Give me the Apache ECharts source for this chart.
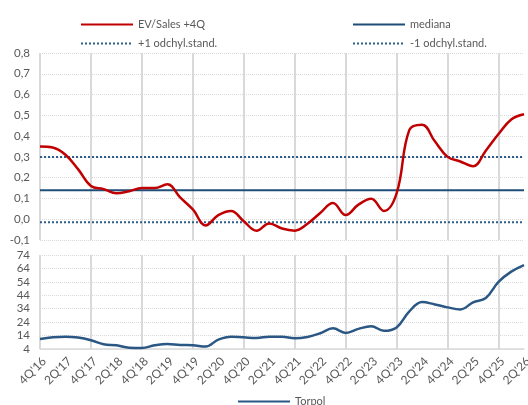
<!DOCTYPE html>
<html><head><meta charset="utf-8">
<script src="https://cdn.jsdelivr.net/npm/echarts@6/dist/echarts.min.js"></script>
<style>html,body{margin:0;padding:0;background:#fff}#c{width:528px;height:405px}</style>
</head><body><div id="c"></div>
<script>
const categories = ["4Q'16","1Q'17","2Q'17","3Q'17","4Q'17","1Q'18","2Q'18","3Q'18","4Q'18","1Q'19","2Q'19","3Q'19","4Q'19","1Q'20","2Q'20","3Q'20","4Q'20","1Q'21","2Q'21","3Q'21","4Q'21","1Q'22","2Q'22","3Q'22","4Q'22","1Q'23","2Q'23","3Q'23","4Q'23","1Q'24","2Q'24","3Q'24","4Q'24","1Q'25","2Q'25","3Q'25","4Q'25","1Q'26","2Q'26"];
const evSales = [0.35,0.345,0.31,0.24,0.16,0.145,0.125,0.135,0.15,0.15,0.168,0.105,0.047,-0.03,0.02,0.04,-0.01,-0.055,-0.02,-0.045,-0.055,-0.022,0.03,0.078,0.02,0.07,0.098,0.04,0.125,0.43,0.455,0.375,0.30,0.278,0.255,0.33,0.41,0.48,0.505];
const medianaVal = 0.14, plusStdVal = 0.30, minusStdVal = -0.015;
const mediana = categories.map(() => medianaVal);
const plusStd = categories.map(() => plusStdVal);
const minusStd = categories.map(() => minusStdVal);
const torpol = [11.5,12.7,13.2,12.5,10.5,7.5,6.8,5,4.8,6.8,7.8,7,6.8,5.8,11,13.2,12.7,12.2,13.2,13.2,12,13,15.7,19.4,16,19,21,17.6,20.1,32,39,37.2,35,33.5,38.7,42,54,61.6,66.5];

const FONT = 'Lato';
const grey = '#595959';
const gridCol = '#d9d9d9';
const vInt = (i) => i % 4 === 0;
const chart = echarts.init(document.getElementById('c'), null, {renderer:'canvas'});
const legendBase = {itemWidth:52, itemHeight:10, itemStyle:{opacity:0}, textStyle:{color:grey, fontFamily:FONT, fontSize:11}, itemGap:10};
chart.setOption({
  animation:false,
  textStyle:{fontFamily:FONT},
  grid:[
    {left:40, right:4, top:53, height:187, outerBoundsMode:'none', containLabel:false},
    {left:40, right:4, top:255, height:94, outerBoundsMode:'none', containLabel:false}
  ],
  legend:[
    Object.assign({data:['EV/Sales +4Q'], left:75, top:14}, legendBase),
    Object.assign({data:['mediana'], left:347, top:14}, legendBase),
    Object.assign({data:['+1 odchyl.stand.'], left:75, top:33}, legendBase),
    Object.assign({data:['-1 odchyl.stand.'], left:347, top:33}, legendBase),
    Object.assign({data:['Torpol'], left:232, top:391}, legendBase)
  ],
  xAxis:[
    {type:'category', gridIndex:0, data:categories, boundaryGap:false,
     axisLine:{show:false}, axisTick:{show:false}, axisLabel:{show:false},
     splitLine:{show:true, interval:vInt, lineStyle:{color:gridCol, width:2}}},
    {type:'category', gridIndex:1, data:categories, boundaryGap:false,
     axisLine:{show:true, lineStyle:{color:gridCol, width:1.5}}, axisTick:{show:false},
     axisLabel:{interval:1, rotate:45, color:grey, fontFamily:FONT, fontSize:12, margin:6, verticalAlign:'top', align:'right'},
     splitLine:{show:true, interval:vInt, lineStyle:{color:gridCol, width:2}}}
  ],
  yAxis:[
    {type:'value', gridIndex:0, min:-0.1, max:0.8, interval:0.1,
     axisLine:{show:false}, axisTick:{show:false},
     axisLabel:{color:grey, fontFamily:FONT, fontSize:11.5, margin:10, formatter:(v)=>v.toFixed(1).replace('.',',')},
     splitLine:{lineStyle:{color:gridCol, type:'dotted', width:1}}},
    {type:'value', gridIndex:1, min:4, max:74, interval:10,
     axisLine:{show:false}, axisTick:{show:false},
     axisLabel:{color:grey, fontFamily:FONT, fontSize:11.5, margin:10},
     splitLine:{lineStyle:{color:gridCol, type:'dotted', width:1}}}
  ],
  series:[
    {name:'+1 odchyl.stand.', type:'line', xAxisIndex:0, yAxisIndex:0, data:plusStd, symbol:'none', lineStyle:{color:'#2e5f8c', width:2, type:'dotted'}, itemStyle:{color:'#2e5f8c'}},
    {name:'-1 odchyl.stand.', type:'line', xAxisIndex:0, yAxisIndex:0, data:minusStd, symbol:'none', lineStyle:{color:'#2e5f8c', width:2, type:'dotted'}, itemStyle:{color:'#2e5f8c'}},
    {name:'mediana', type:'line', xAxisIndex:0, yAxisIndex:0, data:mediana, symbol:'none', lineStyle:{color:'#1f4e79', width:2}, itemStyle:{color:'#1f4e79'}},
    {name:'EV/Sales +4Q', type:'line', xAxisIndex:0, yAxisIndex:0, data:evSales, symbol:'none', smooth:0.4, lineStyle:{color:'#c00000', width:2.5}, itemStyle:{color:'#c00000'}},
    {name:'Torpol', type:'line', xAxisIndex:1, yAxisIndex:1, data:torpol, symbol:'none', smooth:0.4, lineStyle:{color:'#2a5783', width:2.5}, itemStyle:{color:'#2a5783'}}
  ]
});
</script></body></html>
